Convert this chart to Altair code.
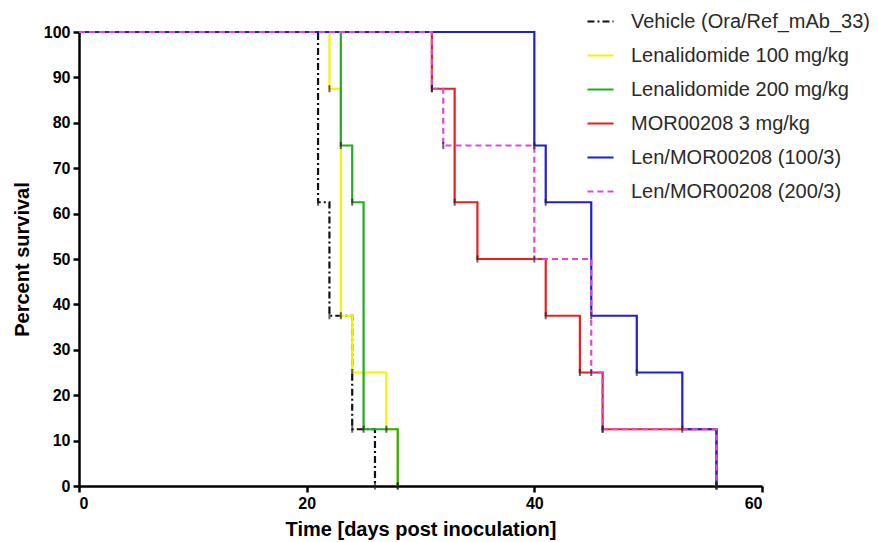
import altair as alt
import pandas as pd

groups = [
    "Vehicle (Ora/Ref_mAb_33)",
    "Lenalidomide 100 mg/kg",
    "Lenalidomide 200 mg/kg",
    "MOR00208 3 mg/kg",
    "Len/MOR00208 (100/3)",
    "Len/MOR00208 (200/3)",
]

vehicle_days = [0, 21, 22, 24, 26]
vehicle_surv = [100, 62.5, 37.5, 12.5, 0]

len100_days = [0, 22, 23, 24, 27, 28]
len100_surv = [100, 87.5, 37.5, 25, 12.5, 0]

len200_days = [0, 23, 24, 25, 28]
len200_surv = [100, 75, 62.5, 12.5, 0]

mor_days = [0, 31, 33, 35, 41, 44, 46, 56]
mor_surv = [100, 87.5, 62.5, 50, 37.5, 25, 12.5, 0]

combo100_days = [0, 40, 41, 45, 49, 53, 56]
combo100_surv = [100, 75, 62.5, 37.5, 25, 12.5, 0]

combo200_days = [0, 31, 32, 40, 45, 46, 56]
combo200_surv = [100, 87.5, 75, 50, 25, 12.5, 0]

colors = ["#111111", "#f4f400", "#1fae1f", "#ee1d1d", "#1d1ddc", "#e048d2"]
dashes = [[7, 3, 2, 3], [1, 0], [1, 0], [1, 0], [1, 0], [6, 4]]

series = [
    (vehicle_days, vehicle_surv),
    (len100_days, len100_surv),
    (len200_days, len200_surv),
    (mor_days, mor_surv),
    (combo100_days, combo100_surv),
    (combo200_days, combo200_surv),
]

rows = []
for g, (d, s) in zip(groups, series):
    for i, (di, si) in enumerate(zip(d, s)):
        rows.append({"group": g, "day": di, "surv": si, "idx": i})
df = pd.DataFrame(rows)

FONT = "Liberation Sans"

x_enc = alt.X(
    "day:Q",
    scale=alt.Scale(domain=[0, 60], nice=False),
    axis=alt.Axis(values=[0, 20, 40, 60], title="Time [days post inoculation]"),
)
y_enc = alt.Y(
    "surv:Q",
    scale=alt.Scale(domain=[0, 100], nice=False),
    axis=alt.Axis(values=list(range(0, 101, 10)), title="Percent survival", titlePadding=11),
)

legend = alt.Legend(
    title=None,
    orient="none",
    legendX=507,
    legendY=-25,
    symbolType="stroke",
    symbolSize=680,
    symbolStrokeWidth=2.2,
    labelFont=FONT,
    labelFontSize=20,
    labelColor="#2a2a2a",
    labelOffset=16,
    rowPadding=9,
    padding=0,
    labelLimit=400,
)

lines = alt.Chart(df).mark_line(interpolate="step-after", strokeWidth=2.2).encode(
    x=x_enc,
    y=y_enc,
    color=alt.Color("group:N", scale=alt.Scale(domain=groups, range=colors), legend=legend),
    strokeDash=alt.StrokeDash("group:N", scale=alt.Scale(domain=groups, range=dashes), legend=legend),
    order="idx:Q",
)

ticks = alt.Chart(df).transform_filter("datum.day > 0").mark_tick(
    orient="vertical", color="#222222", size=7, thickness=2
).encode(x=x_enc, y=y_enc)

chart = alt.layer(lines, ticks).properties(
    width=683,
    height=454,
    padding={"left": 79, "top": 32, "right": 116, "bottom": 56},
    autosize=alt.AutoSizeParams(type="none"),
).configure_view(stroke=None).configure_axis(
    grid=False,
    domainColor="black",
    domainWidth=2.5,
    tickColor="black",
    tickWidth=2.5,
    tickSize=6,
    labelFont=FONT,
    labelFontSize=16,
    labelFontWeight="bold",
    labelColor="black",
    labelPadding=3,
    titleFont=FONT,
    titleFontSize=20,
    titleFontWeight="bold",
    titleColor="black",
    titlePadding=8,
)

chart.save("out.html", embed_options={"renderer": "svg", "actions": False})
